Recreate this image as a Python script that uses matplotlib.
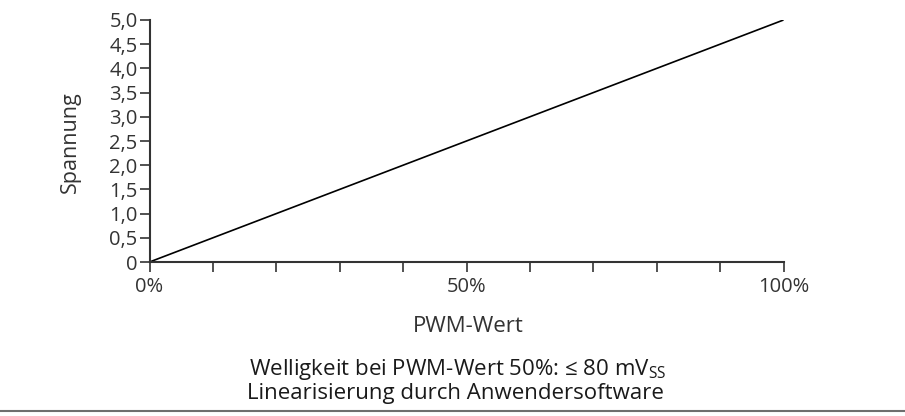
import matplotlib.pyplot as plt
import matplotlib.lines as mlines

plt.rcParams['font.family'] = ['Open Sans', 'DejaVu Sans']

# data
pwm = [0, 100]          # PWM-Wert in %
spannung = [0.0, 5.0]   # Spannung in V
y_ticks = [0, 0.5, 1.0, 1.5, 2.0, 2.5, 3.0, 3.5, 4.0, 4.5, 5.0]
y_labels = ["0", "0,5", "1,0", "1,5", "2,0", "2,5", "3,0", "3,5", "4,0", "4,5", "5,0"]
x_ticks = list(range(0, 101, 10))
x_labels = ["0%", "", "", "", "", "50%", "", "", "", "", "100%"]

txt = "#333333"

fig = plt.figure(figsize=(9.05, 4.16), dpi=100)
ax = fig.add_axes([149.5 / 905, 1 - 262 / 416, 634 / 905, 242 / 416])

ax.plot(pwm, spannung, color="black", lw=1.2, solid_capstyle="butt")

ax.set_xlim(0, 100)
ax.set_ylim(0, 5.0)
ax.set_xticks(x_ticks)
ax.set_xticklabels(x_labels)
ax.set_yticks(y_ticks)
ax.set_yticklabels(y_labels)

for s in ["top", "right"]:
    ax.spines[s].set_visible(False)
for s in ["left", "bottom"]:
    ax.spines[s].set_color("#333333")
    ax.spines[s].set_linewidth(1.5)

ax.tick_params(axis="both", direction="out", colors="#333333", labelcolor=txt,
               labelsize=14.5, width=1.2)
ax.tick_params(axis="y", length=7, pad=1.5)
ax.tick_params(axis="x", length=7.5, pad=3)

fig.text(70 / 905, 1 - 142 / 416, "Spannung", rotation=90, ha="center", va="center",
         fontsize=15.5, color=txt)
fig.text(468 / 905, 1 - 332 / 416, "PWM-Wert", ha="center", va="baseline",
         fontsize=16, color=txt)
fig.text(458 / 905, 1 - 375 / 416, r"Welligkeit bei PWM-Wert 50%: ≤ 80 mV$_\mathregular{SS}$",
         ha="center", va="baseline", fontsize=16, color="#1a1a1a")
fig.text(455 / 905, 1 - 399 / 416, "Linearisierung durch Anwendersoftware",
         ha="center", va="baseline", fontsize=16, color="#1a1a1a")

fig.add_artist(mlines.Line2D([0, 1], [1 - 411 / 416] * 2, color="#6e6e6e", lw=1.5,
                             transform=fig.transFigure))

fig.savefig("out.png", dpi=100)
